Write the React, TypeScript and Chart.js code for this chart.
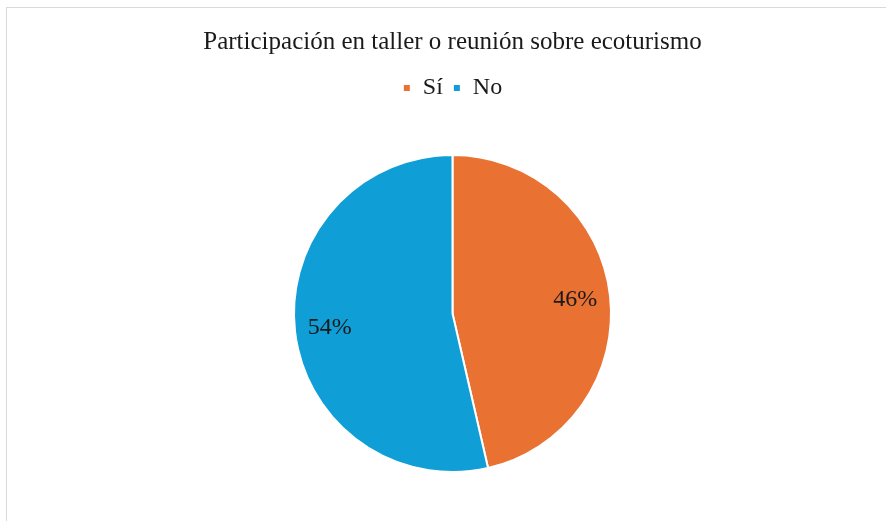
import React, { useEffect, useRef } from "react";
import { Chart, registerables } from "chart.js";

Chart.register(...registerables);

const titleText = "Participación en taller o reunión sobre ecoturismo";
const categories = ["Sí", "No"];
const values = [46.4, 53.6];
const colors = ["#E97132", "#0F9ED5"];

const FONT = "'Liberation Serif', 'Times New Roman', serif";

const labelPlugin = {
  id: "pieLabels",
  afterDatasetsDraw(chart: any) {
    const ctx = chart.ctx;
    const meta = chart.getDatasetMeta(0);
    const data = chart.data.datasets[0].data as number[];
    const total = data.reduce((a, b) => a + b, 0);
    ctx.save();
    ctx.font = `24px ${FONT}`;
    ctx.fillStyle = "#1a1a1a";
    ctx.textAlign = "center";
    ctx.textBaseline = "middle";
    meta.data.forEach((arc: any, i: number) => {
      const { x, y, startAngle, endAngle, outerRadius } = arc.getProps(
        ["x", "y", "startAngle", "endAngle", "outerRadius"],
        true
      );
      const mid = (startAngle + endAngle) / 2;
      const r = outerRadius * 0.78;
      const pct = Math.round((data[i] / total) * 100);
      ctx.fillText(`${pct}%`, x + Math.cos(mid) * r, y + Math.sin(mid) * r);
    });
    ctx.restore();
  },
};

export default function App() {
  const ref = useRef<HTMLCanvasElement | null>(null);
  useEffect(() => {
    if (!ref.current) return;
    const chart = new Chart(ref.current, {
      type: "pie",
      data: {
        labels: categories,
        datasets: [
          {
            data: values,
            backgroundColor: colors,
            borderColor: "#ffffff",
            borderWidth: 2,
            radius: 158.5,
          } as any,
        ],
      },
      options: {
        responsive: false,
        animation: false,
        events: [],
        layout: { padding: { top: 0, bottom: 4, left: 0, right: 0 } },
        plugins: {
          tooltip: { enabled: false },
          title: {
            display: true,
            text: titleText,
            color: "#1a1a1a",
            font: { family: FONT, size: 25, weight: "normal" as any, lineHeight: 1.2 },
            padding: { top: 19, bottom: 9 },
          },
          legend: {
            display: true,
            position: "top",
            labels: {
              color: "#1a1a1a",
              font: { family: FONT, size: 24 },
              boxWidth: 8,
              boxHeight: 8,
              padding: 10,
            },
          },
        },
      },
      plugins: [labelPlugin],
    });
    return () => chart.destroy();
  }, []);
  return (
    <div
      style={{
        position: "fixed",
        left: 6,
        top: 7,
        width: 900,
        height: 530,
        border: "1px solid #d9d9d9",
        background: "#fff",
      }}
    >
      <canvas ref={ref} width={891} height={513} style={{ display: "block", width: 891, height: 513 }} />
    </div>
  );
}
